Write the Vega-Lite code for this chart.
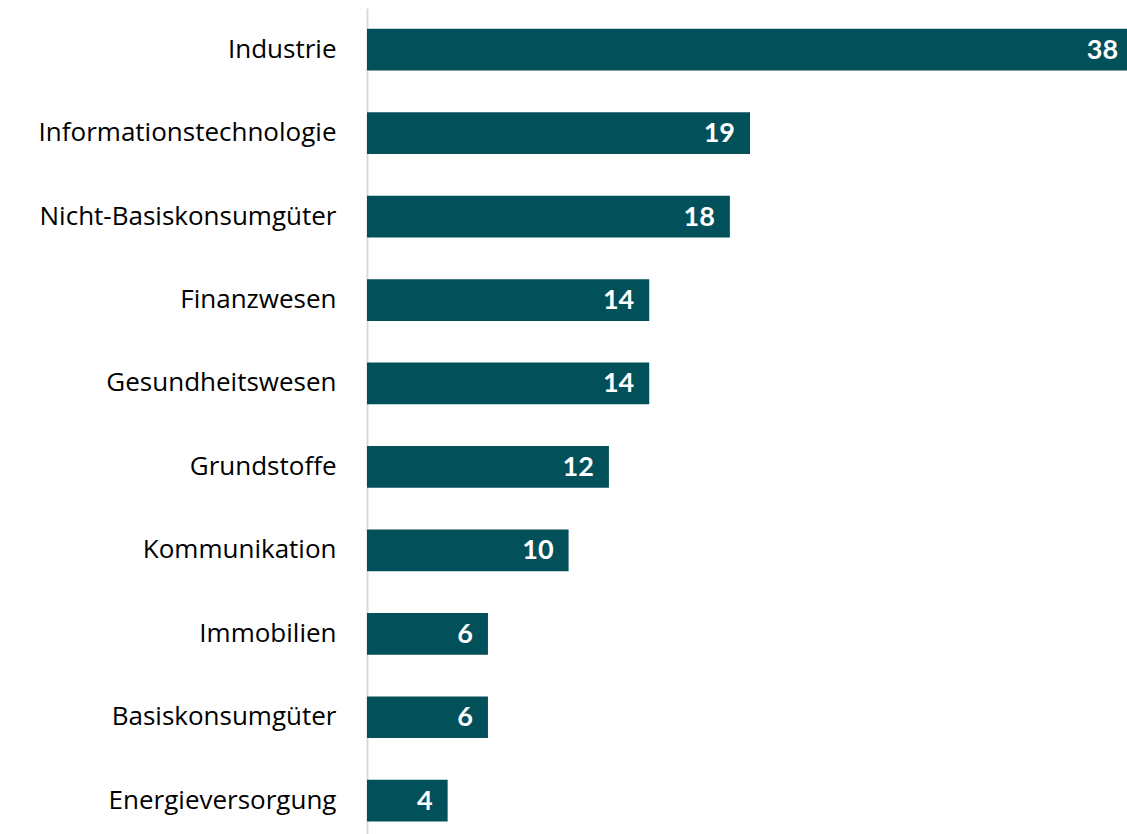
{
  "$schema": "https://vega.github.io/schema/vega-lite/v6.json",
  "autosize": {"type": "none"},
  "padding": {"left": 367, "top": 8, "right": 0, "bottom": 0},
  "width": 760,
  "height": 826,
  "background": "white",
  "config": {"view": {"stroke": null}, "font": "Open Sans"},
  "data": {
    "values": [
      {"sector": "Industrie", "value": 38},
      {"sector": "Informationstechnologie", "value": 19},
      {"sector": "Nicht-Basiskonsumgüter", "value": 18},
      {"sector": "Finanzwesen", "value": 14},
      {"sector": "Gesundheitswesen", "value": 14},
      {"sector": "Grundstoffe", "value": 12},
      {"sector": "Kommunikation", "value": 10},
      {"sector": "Immobilien", "value": 6},
      {"sector": "Basiskonsumgüter", "value": 6},
      {"sector": "Energieversorgung", "value": 4}
    ]
  },
  "encoding": {
    "y": {
      "field": "sector",
      "type": "nominal",
      "sort": ["Industrie", "Informationstechnologie", "Nicht-Basiskonsumgüter", "Finanzwesen", "Gesundheitswesen", "Grundstoffe", "Kommunikation", "Immobilien", "Basiskonsumgüter", "Energieversorgung"],
      "scale": {"range": [0, 834.4], "paddingInner": 0.5, "paddingOuter": 0.25},
      "axis": {
        "title": null,
        "ticks": false,
        "domainColor": "#d9d9d9",
        "domainWidth": 2,
        "labelFont": "Open Sans",
        "labelFontSize": 26,
        "labelColor": "#000000",
        "labelPadding": 31,
        "labelLimit": 400
      }
    },
    "x": {
      "field": "value",
      "type": "quantitative",
      "scale": {"domain": [0, 37.7], "nice": false},
      "axis": null
    }
  },
  "layer": [
    {"mark": {"type": "bar", "color": "#02505A"}},
    {
      "mark": {"type": "text", "align": "right", "baseline": "middle", "dx": -15, "dy": 1, "color": "white", "fontWeight": "bold", "fontSize": 27, "font": "Lato"},
      "encoding": {"text": {"field": "value", "type": "quantitative"}}
    }
  ]
}
